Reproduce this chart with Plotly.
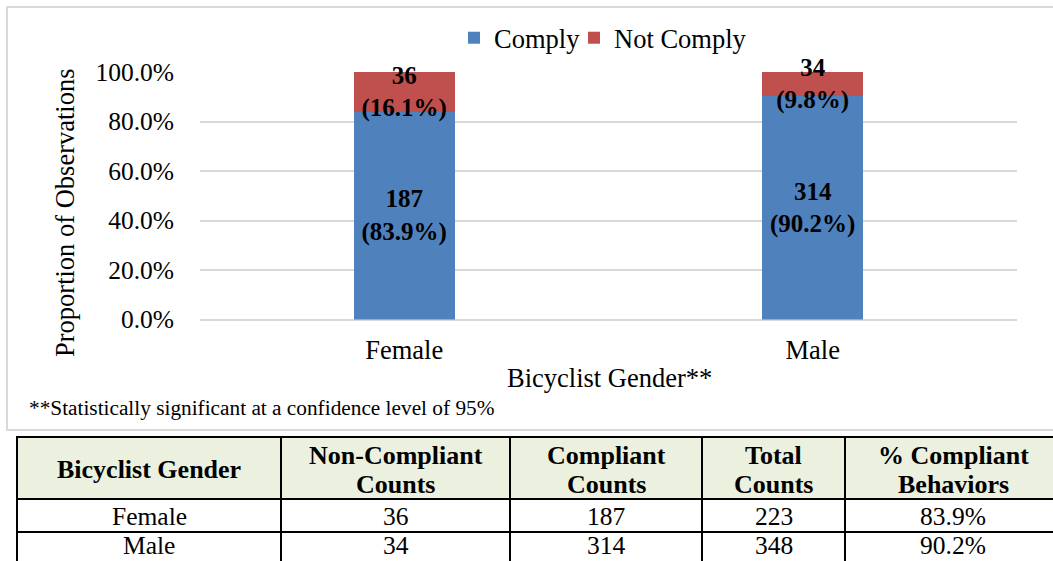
import plotly.graph_objects as go

# ---- data ----
genders = ["Female", "Male"]
comply_counts = [187, 314]
not_comply_counts = [36, 34]
comply_pct = [83.9, 90.2]
not_comply_pct = [16.1, 9.8]
total_counts = [223, 348]
pct_compliant_text = ["83.9%", "90.2%"]
y_ticks = [0, 20, 40, 60, 80, 100]
y_tick_labels = ["0.0%", "20.0%", "40.0%", "60.0%", "80.0%", "100.0%"]

header_line1 = ["Bicyclist Gender", "Non-Compliant", "Compliant", "Total", "% Compliant"]
header_line2 = ["", "Counts", "Counts", "Counts", "Behaviors"]

# ---- layout constants (pixels) ----
W, H = 1053, 561
FONT = "Liberation Serif, Times New Roman, serif"
BLUE = "#4f81bd"
RED = "#c0504d"
GRID = "#d9d9d9"
HEADER_FILL = "#ebf1de"

col_edges = [17, 281, 510, 702, 845, 1061]
row_edges = [437, 499, 532, 565]
row_text_y = [516, 545]


def px_x(v):
    return v / W


def px_y(v):
    return 1 - v / H


fig = go.Figure()

fig.add_trace(go.Bar(
    x=genders, y=comply_pct, name="Comply", marker=dict(color=BLUE, line=dict(width=0)),
    text=[f"<b>{c}<br>({p:.1f}%)</b>" for c, p in zip(comply_counts, comply_pct)],
    textposition="inside", insidetextanchor="middle", constraintext="none",
    textfont=dict(family=FONT, size=25, color="black"), cliponaxis=False,
    hoverinfo="skip", legend="legend",
))
fig.add_trace(go.Bar(
    x=genders, y=not_comply_pct, name="Not Comply", marker=dict(color=RED, line=dict(width=0)),
    text=[f"<b>{c}<br>({p:.1f}%)</b>" for c, p in zip(not_comply_counts, not_comply_pct)],
    textposition="inside", insidetextanchor="middle", constraintext="none",
    textfont=dict(family=FONT, size=25, color="black"), cliponaxis=False,
    hoverinfo="skip", legend="legend2",
))

shapes = [dict(
    type="rect", xref="paper", yref="paper",
    x0=px_x(7), x1=px_x(1070), y0=px_y(430), y1=px_y(7),
    line=dict(color=GRID, width=2), fillcolor="rgba(0,0,0,0)", layer="below",
)]

# table: header fill
shapes.append(dict(
    type="rect", xref="paper", yref="paper",
    x0=px_x(col_edges[0]), x1=px_x(col_edges[-1]),
    y0=px_y(row_edges[1]), y1=px_y(row_edges[0]),
    line=dict(width=0), fillcolor=HEADER_FILL, layer="below",
))
# table: horizontal lines
for r in row_edges:
    shapes.append(dict(type="line", xref="paper", yref="paper",
                       x0=px_x(col_edges[0] - 1), x1=px_x(col_edges[-1]),
                       y0=px_y(r), y1=px_y(r),
                       line=dict(color="black", width=2)))
# table: vertical lines
for c in col_edges:
    shapes.append(dict(type="line", xref="paper", yref="paper",
                       x0=px_x(c), x1=px_x(c),
                       y0=px_y(row_edges[-1]), y1=px_y(row_edges[0]),
                       line=dict(color="black", width=2)))

annotations = [
    dict(text="Proportion of Observations", xref="paper", yref="paper",
         x=px_x(65), y=px_y(213), textangle=-90, showarrow=False,
         xanchor="center", yanchor="middle",
         font=dict(family=FONT, size=26.5, color="black")),
    dict(text="Bicyclist Gender**", xref="paper", yref="paper",
         x=px_x(609), y=px_y(378), showarrow=False,
         xanchor="center", yanchor="middle",
         font=dict(family=FONT, size=26.5, color="black")),
    dict(text="**Statistically significant at a confidence level of 95%",
         xref="paper", yref="paper",
         x=px_x(27), y=px_y(408), showarrow=False,
         xanchor="left", yanchor="middle",
         font=dict(family=FONT, size=21.3, color="black")),
]

# table text
centers = [(col_edges[i] + col_edges[i + 1]) / 2 for i in range(len(col_edges) - 1)]
for i, cx in enumerate(centers):
    if header_line2[i]:
        annotations.append(dict(text=f"<b>{header_line1[i]}</b>", xref="paper", yref="paper",
                                x=px_x(cx), y=px_y(455), showarrow=False,
                                xanchor="center", yanchor="middle",
                                font=dict(family=FONT, size=26, color="black")))
        annotations.append(dict(text=f"<b>{header_line2[i]}</b>", xref="paper", yref="paper",
                                x=px_x(cx), y=px_y(484), showarrow=False,
                                xanchor="center", yanchor="middle",
                                font=dict(family=FONT, size=26, color="black")))
    else:
        annotations.append(dict(text=f"<b>{header_line1[i]}</b>", xref="paper", yref="paper",
                                x=px_x(cx), y=px_y(469), showarrow=False,
                                xanchor="center", yanchor="middle",
                                font=dict(family=FONT, size=26, color="black")))

rows = list(zip(genders, not_comply_counts, comply_counts, total_counts, pct_compliant_text))
for r, row in enumerate(rows):
    cy = row_text_y[r]
    for i, val in enumerate(row):
        annotations.append(dict(text=str(val), xref="paper", yref="paper",
                                x=px_x(centers[i]), y=px_y(cy), showarrow=False,
                                xanchor="center", yanchor="middle",
                                font=dict(family=FONT, size=25.5, color="black")))

legend_common = dict(
    orientation="h", xanchor="left", yanchor="middle", y=px_y(38),
    font=dict(family=FONT, size=26.5, color="black"),
    itemwidth=30, bgcolor="rgba(0,0,0,0)",
)

fig.update_layout(
    width=W, height=H,
    margin=dict(l=0, r=0, t=0, b=0, autoexpand=False),
    paper_bgcolor="white", plot_bgcolor="white",
    barmode="stack", bargap=0.753,
    font=dict(family=FONT, color="black"),
    showlegend=True,
    legend=dict(x=px_x(454), **legend_common),
    legend2=dict(x=px_x(574), **legend_common),
    xaxis=dict(
        domain=[px_x(200), px_x(1017)], automargin=False,
        showgrid=False, zeroline=False, showline=False, ticks="",
        tickfont=dict(family=FONT, size=26.5, color="black"),
        ticklabelstandoff=12,
    ),
    yaxis=dict(
        domain=[px_y(319.5), px_y(72)], automargin=False,
        range=[0, 100], tickvals=y_ticks, ticktext=y_tick_labels,
        showgrid=True, gridcolor=GRID, gridwidth=2,
        zeroline=True, zerolinecolor=GRID, zerolinewidth=2,
        showline=False, ticks="",
        tickfont=dict(family=FONT, size=25.5, color="black"),
        ticklabelstandoff=25,
    ),
    shapes=shapes,
    annotations=annotations,
)

fig.write_html("out.html", config={"displayModeBar": False},
               post_script="document.body.style.margin='0';document.body.style.overflow='hidden';")
